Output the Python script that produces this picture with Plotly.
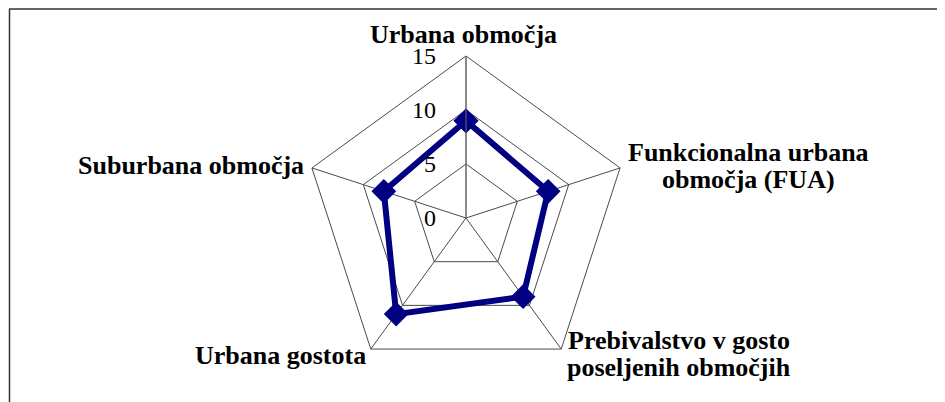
import plotly.graph_objects as go

categories = ["Urbana območja", "Funkcionalna urbana območja (FUA)",
              "Prebivalstvo v gosto poseljenih območjih", "Urbana gostota",
              "Suburbana območja"]
values = [9, 8, 9, 11, 8]
radial_ticks = [0, 5, 10, 15]

# category label lines as shown in the chart
label_lines = [
    ["Urbana območja"],
    ["Funkcionalna urbana", "območja (FUA)"],
    ["Prebivalstvo v gosto", "poseljenih območjih"],
    ["Urbana gostota"],
    ["Suburbana območja"],
]

W, H = 945, 402
OFF = 8  # page body margin of the html page
cx, cy, R = 466 - OFF, 218 - OFF, 162

fig = go.Figure()
fig.add_trace(go.Scatterpolar(
    r=values + values[:1],
    theta=categories + categories[:1],
    mode="lines+markers",
    line=dict(color="#000080", width=6),
    marker=dict(symbol="diamond", size=19, color="#000080"),
    showlegend=False,
    cliponaxis=False,
    hoverinfo="r+theta",
))

# label anchor positions (window pixels): centre x, cap-middle y of first line
label_pos = [(463, 33), (748, 150.5), (679, 338.5), (280, 353.5), (191, 163.5)]
line_gap = 26.5
annotations = []
for lines, (x, y) in zip(label_lines, label_pos):
    for k, txt in enumerate(lines):
        px = x - OFF
        py = y - OFF + k * line_gap + 2
        annotations.append(dict(
            text=txt, xref="paper", yref="paper",
            x=px / W, y=(H - py) / H, xanchor="center", yanchor="middle",
            showarrow=False,
            font=dict(family="Liberation Serif", size=26, color="black", weight="bold"),
        ))

fig.update_layout(
    width=W, height=H,
    margin=dict(l=0, r=0, t=0, b=0),
    paper_bgcolor="white",
    plot_bgcolor="white",
    font=dict(family="Liberation Serif", color="black"),
    polar=dict(
        domain=dict(x=[(cx - R) / W, (cx + R) / W], y=[(H - cy - R) / H, (H - cy + R) / H]),
        bgcolor="white",
        gridshape="linear",
        angularaxis=dict(
            rotation=90, direction="clockwise",
            showline=True, linecolor="#4a4a4a", linewidth=1,
            gridcolor="#4a4a4a", gridwidth=1,
            ticks="", showticklabels=False,
        ),
        radialaxis=dict(
            range=[0, 15], tickvals=radial_ticks,
            angle=90, tickangle=90, side="counterclockwise",
            showline=True, linecolor="#707070", linewidth=1,
            gridcolor="#4a4a4a", gridwidth=1,
            ticks="outside", ticklen=21, tickcolor="rgba(0,0,0,0)",
            tickfont=dict(family="Liberation Serif", size=24, color="black"),
        ),
    ),
    annotations=annotations,
    shapes=[
        dict(type="line", xref="paper", yref="paper", x0=1 / W, x1=1, y0=(H - 1) / H, y1=(H - 1) / H,
             line=dict(color="#333333", width=1.5)),
        dict(type="line", xref="paper", yref="paper", x0=1.5 / W, x1=1.5 / W, y0=0, y1=(H - 1) / H,
             line=dict(color="#333333", width=1.5)),
    ],
)

fig.write_html("out.html")
